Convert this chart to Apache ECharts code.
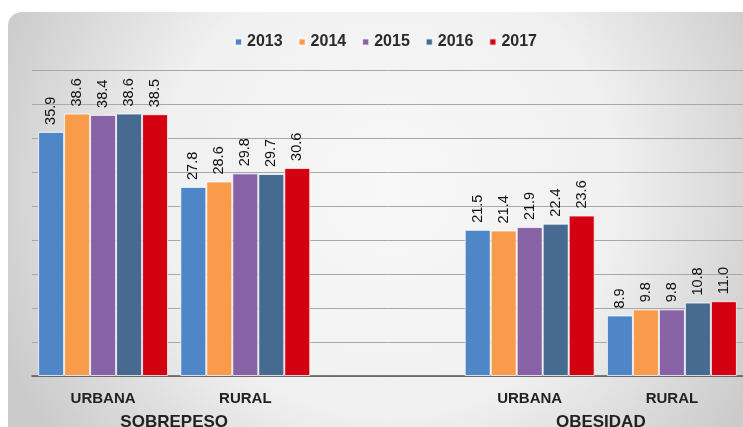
<!DOCTYPE html>
<html>
<head>
<meta charset="utf-8">
<script src="https://cdn.jsdelivr.net/npm/echarts@6/dist/echarts.min.js"></script>
<style>
  html, body { margin: 0; padding: 0; background: #ffffff; }
  #chart { width: 743px; height: 427px; }
</style>
</head>
<body>
<div id="chart"></div>
<script>
// ---- data ----
const categories = ['URBANA', 'RURAL', '', 'URBANA', 'RURAL'];
const groupLabels = ['', '', 'SOBREPESO', '', '', '', '', '', 'OBESIDAD', '', ''];
const years = ['2013', '2014', '2015', '2016', '2017'];
const v2013 = [35.9, 27.8, null, 21.5, 8.9];
const v2014 = [38.6, 28.6, null, 21.4, 9.8];
const v2015 = [38.4, 29.8, null, 21.9, 9.8];
const v2016 = [38.6, 29.7, null, 22.4, 10.8];
const v2017 = [38.5, 30.6, null, 23.6, 11.0];
const seriesValues = [v2013, v2014, v2015, v2016, v2017];
const colors = ['#4f86c8', '#f89b4a', '#8763a6', '#476a90', '#d30012'];

const chart = echarts.init(document.getElementById('chart'), null, { renderer: 'canvas' });

const series = years.map((y, i) => ({
  name: y,
  type: 'bar',
  xAxisIndex: 0,
  data: seriesValues[i],
  barGap: '0%',
  barCategoryGap: '8.6%',
  itemStyle: {
    color: colors[i],
    borderColor: 'rgba(255,255,255,0.75)',
    borderWidth: 1
  },
  label: {
    show: true,
    position: 'top',
    rotate: 90,
    align: 'left',
    verticalAlign: 'middle',
    distance: 7,
    color: '#111111',
    fontFamily: 'Liberation Sans, Arial, sans-serif',
    fontSize: 14.5,
    formatter: p => (p.value == null ? '' : Number(p.value).toFixed(1))
  }
}));

chart.setOption({
  animation: false,
  backgroundColor: '#ffffff',
  graphic: [{
    type: 'rect',
    z: -10,
    silent: true,
    shape: { x: 8, y: 12, width: 760, height: 440, r: 14 },
    style: {
      fill: {
        type: 'radial', x: 0.5, y: 0.4, r: 0.95,
        colorStops: [
          { offset: 0, color: '#f8f8f8' },
          { offset: 0.55, color: '#f0f0f0' },
          { offset: 1, color: '#cbcbcb' }
        ]
      }
    }
  }],
  legend: {
    data: years,
    left: 229,
    top: 29,
    icon: 'rect',
    itemWidth: 7,
    itemHeight: 7,
    itemGap: 15,
    textStyle: {
      fontFamily: 'Liberation Sans, Arial, sans-serif',
      fontWeight: 'bold',
      fontSize: 16,
      color: '#2a2a2a'
    }
  },
  grid: { left: 32, right: 0, top: 70, bottom: 51, containLabel: false, outerBoundsMode: 'none' },
  xAxis: [{
    type: 'category',
    data: categories,
    axisLine: { show: true, lineStyle: { color: '#555555', width: 1.5 } },
    axisTick: { show: false },
    axisLabel: {
      interval: 0,
      margin: 15,
      fontFamily: 'Liberation Sans, Arial, sans-serif',
      fontWeight: 'bold',
      fontSize: 15,
      color: '#222222'
    }
  }, {
    type: 'category',
    data: groupLabels,
    position: 'bottom',
    boundaryGap: false,
    offset: 29,
    axisLine: { show: false },
    axisTick: { show: false },
    axisLabel: {
      interval: 0,
      margin: 9,
      fontFamily: 'Liberation Sans, Arial, sans-serif',
      fontWeight: 'bold',
      fontSize: 17,
      color: '#222222'
    }
  }],
  yAxis: {
    type: 'value',
    min: 0,
    max: 45,
    interval: 5,
    axisLine: { show: false },
    axisTick: { show: false },
    axisLabel: { show: false },
    splitLine: { show: true, lineStyle: { color: '#a8a8a8', width: 1 } }
  },
  series: series
});
</script>
</body>
</html>
